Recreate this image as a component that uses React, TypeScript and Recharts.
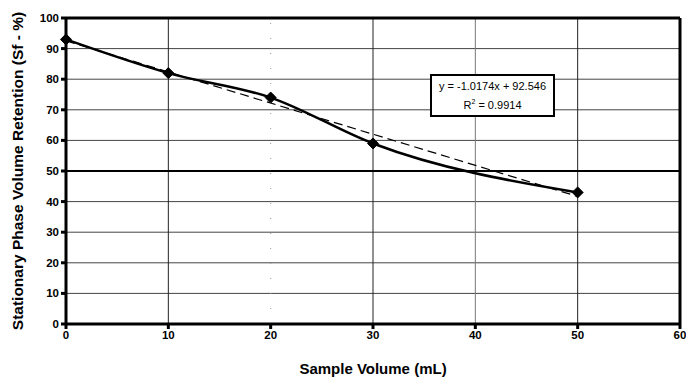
import { LineChart, Line, XAxis, YAxis, CartesianGrid, ReferenceLine } from 'recharts';

const sampleVolume = [0, 10, 20, 30, 50];
const retention = [93, 82, 74, 59, 43];
// linear trendline end points (x = 0 and x = 50), y = -1.0174x + 92.546
const trendline = [92.546, null, null, null, 41.676];
const xTicks = [0, 10, 20, 30, 40, 50, 60];
const yTicks = [0, 10, 20, 30, 40, 50, 60, 70, 80, 90, 100];

const chartData = sampleVolume.map((x, i) => ({ x, sf: retention[i], trend: trendline[i] }));

const font = '"Liberation Sans", Arial, sans-serif';

const Diamond = (props: any) => {
  const { cx, cy } = props;
  if (cx == null || cy == null) return null;
  const r = 5.5;
  return (
    <polygon
      points={`${cx},${cy - r} ${cx + r},${cy} ${cx},${cy + r} ${cx - r},${cy}`}
      fill="#000"
      stroke="#000"
    />
  );
};

export default function App() {
  return (
    <div style={{ position: 'absolute', left: 0, top: 0, width: 686, height: 378, background: '#fff' }}>
      <LineChart
        width={686}
        height={378}
        data={chartData}
        margin={{ top: 18, right: 6, bottom: 0, left: 0 }}
      >
        <CartesianGrid vertical={false} stroke="#444" strokeWidth={1} />
        {[10, 30, 40, 50].map(v => (
          <ReferenceLine key={v} x={v} stroke={v === 40 ? '#777' : '#222'} strokeWidth={1} />
        ))}
        <ReferenceLine x={20} stroke="#999" strokeDasharray="1 14" strokeWidth={1} />
        <ReferenceLine y={50} stroke="#000" strokeWidth={2} />
        <ReferenceLine y={100} stroke="#000" strokeWidth={3} />
        <ReferenceLine x={60} stroke="#000" strokeWidth={3} />
        <XAxis
          dataKey="x"
          type="number"
          domain={[0, 60]}
          ticks={xTicks}
          height={54}
          stroke="#000"
          strokeWidth={3}
          tickSize={5}
          tick={{ fontSize: 11.5, fill: '#000', fontFamily: font, fontWeight: 'bold' }}
          label={{ value: 'Sample Volume (mL)', position: 'insideBottom', offset: 4, fontSize: 15, fontWeight: 'bold', fill: '#000', fontFamily: font }}
        />
        <YAxis
          type="number"
          domain={[0, 100]}
          ticks={yTicks}
          width={66}
          stroke="#000"
          strokeWidth={3}
          tickSize={5}
          tick={{ fontSize: 11.5, fill: '#000', fontFamily: font, fontWeight: 'bold' }}
          label={{ value: 'Stationary Phase Volume Retention (Sf - %)', angle: -90, position: 'insideLeft', offset: 17, style: { textAnchor: 'middle' }, fontSize: 15.5, fontWeight: 'bold', fill: '#000', fontFamily: font }}
        />
        <Line
          dataKey="trend"
          type="linear"
          stroke="#000"
          strokeWidth={1.2}
          strokeDasharray="9 5"
          dot={false}
          connectNulls
          isAnimationActive={false}
        />
        <Line
          dataKey="sf"
          type="monotone"
          stroke="#000"
          strokeWidth={2.5}
          dot={<Diamond />}
          activeDot={false}
          isAnimationActive={false}
        />
      </LineChart>
      <div
        style={{
          position: 'absolute',
          left: 430,
          top: 74,
          width: 121,
          height: 37,
          border: '2px solid #000',
          background: '#fff',
          fontFamily: font,
          fontSize: 11,
          lineHeight: '16px',
          textAlign: 'center',
          paddingTop: 2,
          boxSizing: 'content-box',
        }}
      >
        <div>y = -1.0174x + 92.546</div>
        <div>R<sup style={{ fontSize: 7 }}>2</sup> = 0.9914</div>
      </div>
    </div>
  );
}
